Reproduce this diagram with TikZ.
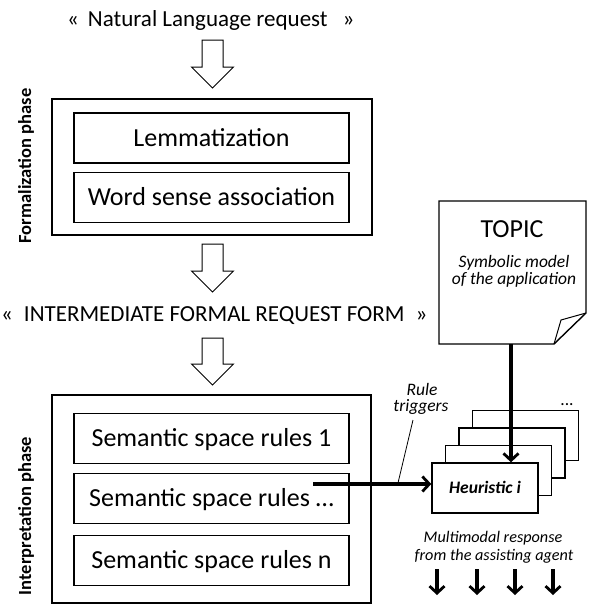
\documentclass[tikz,border=0pt]{standalone}
\usepackage{fontspec}
\setmainfont{Carlito}
\usetikzlibrary{arrows.meta}
\newcommand\hollowarrow[3]{%
  \draw[hollowstyle] (#1-10.5,#2) -- (#1+10.5,#2) -- (#1+10.5,#3-21) -- (#1+21,#3-21)
    -- (#1,#3) -- (#1-21,#3-21) -- (#1-10.5,#3-21) -- cycle;}
\begin{document}
\begin{tikzpicture}[x=1pt,y=-1pt,
  inbox/.style={draw,line width=1.1pt,minimum width=275pt,minimum height=50pt,inner sep=0pt,
    text height=16.7pt,text depth=0pt,font=\fontsize{26}{30}\selectfont},
  outbox/.style={draw,line width=2pt},
  lbl/.style={inner sep=0pt,font=\fontsize{23}{27}\selectfont},
  phase/.style={inner sep=0pt,rotate=90,anchor=base,font=\bfseries\fontsize{18.5}{20}\selectfont},
  itl/.style={inner sep=0pt,anchor=base,font=\itshape\fontsize{17.5}{20}\selectfont},
  itlsmall/.style={inner sep=0pt,anchor=base,font=\itshape\fontsize{16.2}{20}\selectfont},
  heur/.style={draw,line width=1.4pt,fill=white,minimum width=106pt,minimum height=50pt,inner sep=0pt},
  bigarrow/.style={line width=3.5pt,-{Straight Barb[length=7pt,width=15pt,line width=2.8pt]}},
  hollowstyle/.style={draw,line width=1pt,fill=white}]
\useasboundingbox (0,0) rectangle (590,606);

% top texts
\node[lbl,anchor=base west] (nl) at (67,26) {«\hspace{9pt}Natural Language request\hspace{15pt}»};
\node[lbl,anchor=base west] (ifr) at (1,321) {«\hspace{11pt}INTERMEDIATE FORMAL REQUEST FORM\hspace{11pt}»};

% formalization phase
\draw[outbox] (52,99) rectangle (372,235);
\node[inbox] (lem) at (211.5,138) {Lemmatization};
\node[inbox] (wsa) at (211.5,197.5) {Word sense association};
\node[phase] (fp) at (31,166) {Formalization phase};

% interpretation phase
\draw[outbox] (52,395) rectangle (371,603);
\node[inbox] (s1) at (211.5,438.5) {Semantic space rules 1};
\node[inbox] (s2) at (211.5,498.5) {Semantic space rules …};
\node[inbox] (s3) at (211.5,560.5) {Semantic space rules n};
\node[phase] (ip) at (31,516) {Interpretation phase};

% hollow arrows
\hollowarrow{212.5}{40}{88}
\hollowarrow{212.5}{244}{292}
\hollowarrow{212.5}{338}{385}

% TOPIC document
\draw[line width=1.4pt,fill=white] (439,201) -- (586,201) -- (586,313) -- (554,344) -- (439,344) -- cycle;
\draw[line width=1pt] (586,313) -- (561,320) -- (554,344);
\node[inner sep=0pt,anchor=base,font=\fontsize{26}{30}\selectfont] (topic) at (512,237) {TOPIC};
\node[itl] (sym1) at (514,267) {Symbolic model};
\node[itl] (sym2) at (514,284) {of the application};
\coordinate (docb) at (511,344);

% heuristic stack
\node[heur] (h3) at (525.5,435.5) {};
\node[heur] (h2) at (512,453) {};
\node[heur] (h1) at (498.5,470.5) {};
\node[heur,text height=11.3pt,text depth=0pt,font=\bfseries\itshape\fontsize{17.5}{20}\selectfont] (h0) at (485,488) {Heuristic i};
\node[inner sep=0pt,anchor=base,font=\fontsize{17.5}{20}\selectfont] (dots) at (567,405) {...};

\draw[bigarrow] (docb) -- (docb |- h0.north);

% rule triggers
\coordinate (rt) at (313,484);
\draw[bigarrow] (rt) -- (rt -| h0.west);
\node[itl] (rule) at (422,395) {Rule};
\node[itl] (trig) at (421,411) {triggers};
\coordinate (rl1) at (413,420);
\coordinate (rl2) at (398,483);
\draw[line width=0.8pt] (rl1) -- (rl2);

% response
\node[itlsmall] (mm1) at (493,542) {Multimodal response};
\node[itlsmall] (mm2) at (494,560) {from the assisting agent};
\foreach \i/\x in {1/437,2/477,3/515,4/553}{
  \coordinate (ra\i) at (\x,569);
  \coordinate (rb\i) at (\x,595);
  \draw[bigarrow] (ra\i) -- (rb\i);
}
\end{tikzpicture}
\end{document}
